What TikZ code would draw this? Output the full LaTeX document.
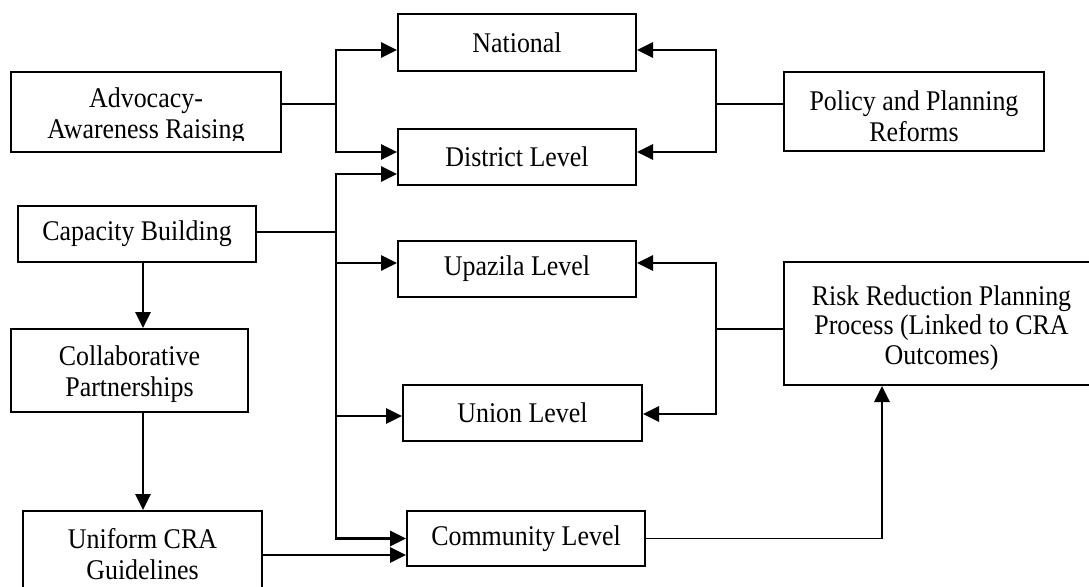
\documentclass[tikz,border=0pt]{standalone}
\usepackage{fontspec}
\setmainfont[FakeStretch=0.91]{Liberation Serif}
\usetikzlibrary{arrows.meta,calc}
\begin{document}
\begin{tikzpicture}[x=1pt,y=-1pt,
  box/.style={draw, line width=2pt, rectangle, inner sep=0pt, align=center, font=\fontsize{28.5}{31}\selectfont},
  txt/.style={inner sep=0pt, align=center, font=\fontsize{28.5}{31}\selectfont},
  conn/.style={line width=1.9pt},
  arr/.style={line width=2.8pt, -{Triangle[length=16pt,width=15pt]}},
  ]
\path[use as bounding box, clip] (0,0) rectangle (1089,586);
\fill[white] (0,0) rectangle (1089,586);

% boxes
\node[box, minimum width=270pt, minimum height=80pt] (adv) at (146,112) {};
\begin{scope}
  \clip (0,72) rectangle (1089,140.5);
  \node[txt] (advt) at (146,115.8) {Advocacy-\\Awareness Raising};
\end{scope}
\node[box, minimum width=238pt, minimum height=57pt] (nat) at (517,42.5) {National};
\node[box, minimum width=238pt, minimum height=56pt] (dist) at (517,157) {District Level};
\node[box, minimum width=260pt, minimum height=79pt] (pol) at (914,111.5) {};
\node[txt] (polt) at (914,116) {Policy and Planning\\Reforms};
\node[box, minimum width=238pt, minimum height=56pt] (cap) at (137,234) {Capacity Building};
\node[box, minimum width=238pt, minimum height=56pt] (upa) at (517,269) {Upazila Level};
\node[box, minimum width=239pt, minimum height=56pt] (uni) at (522.5,413) {Union Level};
\node[box, minimum width=238pt, minimum height=55pt] (com) at (526,538.5) {Community Level};
\node[box, minimum width=315pt, minimum height=123pt] (risk) at (941.5,323.5) {};
\node[txt, font=\fontsize{28.5}{29.5}\selectfont] (riskt) at (941.5,328) {Risk Reduction Planning\\Process (Linked to CRA\\Outcomes)};
\node[box, minimum width=237pt, minimum height=83pt] (col) at (129.5,370.5) {};
\node[txt] (colt) at (129.5,374.5) {Collaborative\\Partnerships};
\node[box, minimum width=239pt, minimum height=94pt] (unif) at (142.5,558) {};
\node[txt] (uniftx) at (142.5,554.5) {Uniform CRA\\Guidelines};

% advocacy bracket
\draw[conn] ([yshift=8pt]adv.east) -- ++(54,0) coordinate (aj);
\draw[arr] (aj) |- ([yshift=-7.5pt]nat.west);
\draw[arr] (aj) |- ([yshift=5pt]dist.west);

% policy bracket
\draw[conn] ([yshift=7.5pt]pol.west) -- ++(-67,0) coordinate (pj);
\draw[arr] (pj) |- ([yshift=-7.5pt]nat.east);
\draw[arr] (pj) |- ([yshift=5pt]dist.east);

% capacity trunk
\draw[conn] ([yshift=2pt]cap.east) -- ++(79,0) coordinate (cj);
\draw[arr] (cj) |- ([yshift=-17pt]dist.west);
\draw[arr] (cj) |- (com.west);
\coordinate (upaL) at ([yshift=6pt]upa.west);
\coordinate (uniL) at ([yshift=-3pt]uni.west);
\draw[arr] (upaL -| cj) -- (upaL);
\draw[arr] (uniL -| cj) -- (uniL);

% risk bracket
\draw[conn] ([yshift=-5.5pt]risk.west) -- ++(-67,0) coordinate (rj);
\draw[arr] (rj) |- ([yshift=6pt]upa.east);
\draw[arr] (rj) |- ([yshift=-1pt]uni.east);

% community to risk
\coordinate (rb) at ([xshift=-59.5pt]risk.south);
\draw[conn] (com.east) -- (com.east -| rb);
\draw[arr] (com.east -| rb) -- (rb);

% left column
\coordinate (vx) at ([xshift=6pt]cap.south);
\draw[arr] (vx) -- (vx |- col.north);
\draw[arr] (col.south -| vx) -- (vx |- unif.north);
\coordinate (comL) at ([yshift=-16.5pt]com.west);
\draw[arr] (comL -| unif.east) -- (comL);
\end{tikzpicture}
\end{document}
